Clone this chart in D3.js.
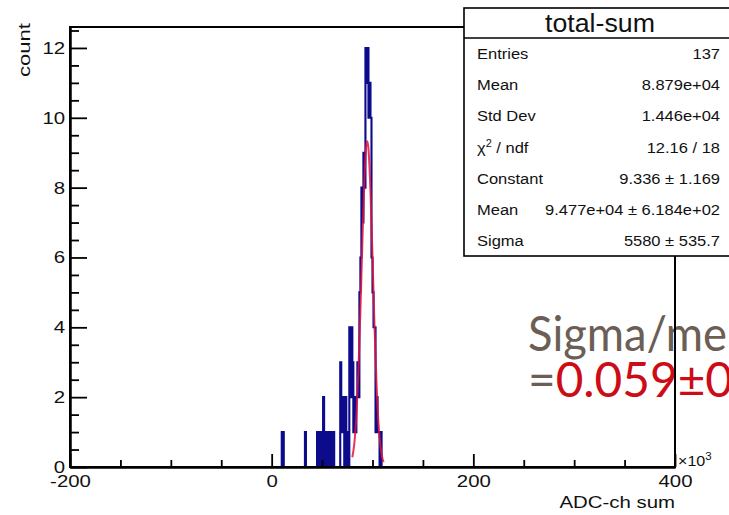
<!DOCTYPE html>
<html><head><meta charset="utf-8">
<script src="https://cdn.jsdelivr.net/npm/d3@7"></script>
<style>body{margin:0;background:#fff}</style>
</head><body><svg id="c" width="729" height="515"></svg>
<script>
// ---- data (ADC-ch sum in units of 10^3) ----
const binStart = 0;
const binWidth = 1;
const counts = [
 0,0,0,0,0,0,0,0,0,0,   // 0-9
 1,1,0,0,0,0,0,0,0,0,   // 10-19
 0,0,0,0,0,0,0,0,0,0,   // 20-29
 0,0,0,1,0,0,0,0,0,0,   // 30-39
 0,0,0,0,0,1,1,0,1,1,   // 40-49
 0,2,1,0,1,1,0,1,0,0,   // 50-59
 1,1,0,0,0,0,0,0,3,1,   // 60-69
 2,1,0,2,1,0,0,4,2,4,   // 70-79
 3,1,2,1,2,3,2,5,6,8,   // 80-89
 7,9,8,12,11,12,10,11,10,6, // 90-99
 5,4,4,1,2,1,1,0,1,0,   // 100-109
 0,0,0
];
const fitX = [80,82,84,86,88,90,92,94,95,96,98,100,102,104,106,108,110,111];
const fitY = [0.28,0.68,1.45,2.72,4.47,6.48,8.25,9.25,9.33,9.11,7.90,6.02,4.03,2.38,1.23,0.56,0.23,0.14];
const xTicks = [-200,0,200,400];
const yTicks = [0,2,4,6,8,10,12];
const statsTitle = "total-sum";
const statLabels = ["Entries","Mean","Std Dev","χ2 / ndf","Constant","Mean","Sigma"];
const statValues = ["137","8.879e+04","1.446e+04","12.16 / 18","9.336 ± 1.169","9.477e+04 ± 6.184e+02","5580 ± 535.7"];
const noteLine1 = "Sigma/me";
const noteLine2a = "=";
const noteLine2b = "0.059±0";

// ---- drawing ----
const W = 729, H = 515;
const m = {l:70, r:675, t:27, b:467};
const svg = d3.select("#c");
svg.append("rect").attr("width",W).attr("height",H).attr("fill","#fff");

const x = d3.scaleLinear().domain([-200,400]).range([m.l,m.r]);
const y = d3.scaleLinear().domain([0,12.6]).range([m.b,m.t]);
const FONT = "'Liberation Sans', Arial, Helvetica, sans-serif";

// histogram (step outline)
const pts = [[binStart,0]];
counts.forEach((c,i)=>{ const lo = binStart + i*binWidth; pts.push([lo,c],[lo+binWidth,c]); });
pts.push([binStart + counts.length*binWidth, 0]);
svg.append("path")
  .attr("d", d3.line().x(d=>x(d[0])).y(d=>y(d[1]))(pts))
  .attr("fill","none").attr("stroke","#0b0b8c").attr("stroke-width",2.1);

// gaussian fit
svg.append("path")
  .datum(fitX.map((v,i)=>[v,fitY[i]]))
  .attr("d", d3.line().x(d=>x(d[0])).y(d=>y(d[1])).curve(d3.curveMonotoneX))
  .attr("fill","none").attr("stroke","#e3123c").attr("stroke-width",2).attr("opacity",0.85);

// big annotation text
const BIG = "Lato, 'Open Sans', sans-serif";
svg.append("text").attr("x",528).attr("y",351)
  .attr("font-family",BIG).attr("font-size",48).attr("fill","#6b5e55")
  .attr("textLength",199).attr("lengthAdjust","spacingAndGlyphs")
  .text(noteLine1);
const t2 = svg.append("text").attr("x",528).attr("y",397)
  .attr("font-family",BIG).attr("font-size",48)
  .attr("textLength",205).attr("lengthAdjust","spacingAndGlyphs");
t2.append("tspan").attr("fill","#6b5e55").text(noteLine2a);
t2.append("tspan").attr("fill","#cc0c16").text(noteLine2b);

// frame
svg.append("rect").attr("x",m.l).attr("y",m.t).attr("width",m.r-m.l).attr("height",m.b-m.t)
  .attr("fill","none").attr("stroke","#000").attr("stroke-width",2);

// axes
function styleAxis(g){
  g.attr("font-family",FONT).attr("font-size",17);
  g.select(".domain").attr("stroke-width",2);
  g.selectAll(".tick line").attr("stroke-width",1.8);
  g.selectAll(".tick text").attr("fill","#111").attr("transform","scale(1.2,1)");
}
const yMinor = d3.range(0, 12.6, 0.5).filter(v => v % 2 !== 0);
const xMinor = d3.range(-200, 401, 50).filter(v => v % 200 !== 0);

svg.append("g").attr("transform",`translate(${m.l},0)`)
  .call(d3.axisLeft(y).tickValues(yMinor).tickSizeInner(-9).tickSizeOuter(0).tickFormat(""))
  .call(styleAxis);
svg.append("g").attr("transform",`translate(${m.l},0)`)
  .call(d3.axisLeft(y).tickValues(yTicks).tickSizeInner(-17).tickSizeOuter(0).tickPadding(4).tickFormat(d=>String(d)))
  .call(styleAxis);
svg.append("g").attr("transform",`translate(0,${m.b})`)
  .call(d3.axisBottom(x).tickValues(xMinor).tickSizeInner(-7).tickSizeOuter(0).tickFormat(""))
  .call(styleAxis);
svg.append("g").attr("transform",`translate(0,${m.b})`)
  .call(d3.axisBottom(x).tickValues(xTicks).tickSizeInner(-13).tickSizeOuter(0).tickPadding(8).tickFormat(d=>String(d)))
  .call(styleAxis);

// exponent label
const ex = svg.append("text").attr("transform",`translate(${m.r+3},466) scale(1.15,1)`)
  .attr("font-family",FONT).attr("font-size",14).attr("fill","#111");
ex.append("tspan").text("×10");
ex.append("tspan").attr("font-size",10).attr("dy",-6).text("3");

// axis titles
svg.append("text").attr("transform",`translate(${m.r},508) scale(1.2,1)`)
  .attr("text-anchor","end").attr("font-family",FONT).attr("font-size",17).attr("fill","#111")
  .text("ADC-ch sum");
svg.append("text").attr("transform",`translate(30,23) rotate(-90) scale(1.3,1)`)
  .attr("text-anchor","end").attr("font-family",FONT).attr("font-size",17).attr("fill","#111")
  .text("count");

// stats box
const bx = 464, by = 8, bh = 248;
svg.append("rect").attr("x",bx).attr("y",by).attr("width",W-bx+20).attr("height",bh)
  .attr("fill","#fff").attr("stroke","#000").attr("stroke-width",1.6);
svg.append("line").attr("x1",bx).attr("x2",W).attr("y1",38).attr("y2",38)
  .attr("stroke","#000").attr("stroke-width",1.6);
svg.append("text").attr("transform",`translate(600,32) scale(1.07,1)`)
  .attr("text-anchor","middle").attr("font-family",FONT).attr("font-size",25).attr("fill","#111")
  .text(statsTitle);
const rowY = d3.scaleLinear().domain([0,6]).range([53.5,241]);
statLabels.forEach((lab,i)=>{
  const t = svg.append("text").attr("transform",`translate(477,${rowY(i)+5.3}) scale(1.1,1)`)
    .attr("font-family",FONT).attr("font-size",15).attr("fill","#111");
  if (lab.startsWith("χ2")) {
    t.append("tspan").text("χ");
    t.append("tspan").attr("font-size",10).attr("dy",-6).text("2");
    t.append("tspan").attr("dy",6).text(lab.slice(2));
  } else t.text(lab);
  svg.append("text").attr("transform",`translate(720,${rowY(i)+5.3}) scale(1.1,1)`)
    .attr("text-anchor","end").attr("font-family",FONT).attr("font-size",15).attr("fill","#111")
    .text(statValues[i]);
});
</script>
</body></html>
